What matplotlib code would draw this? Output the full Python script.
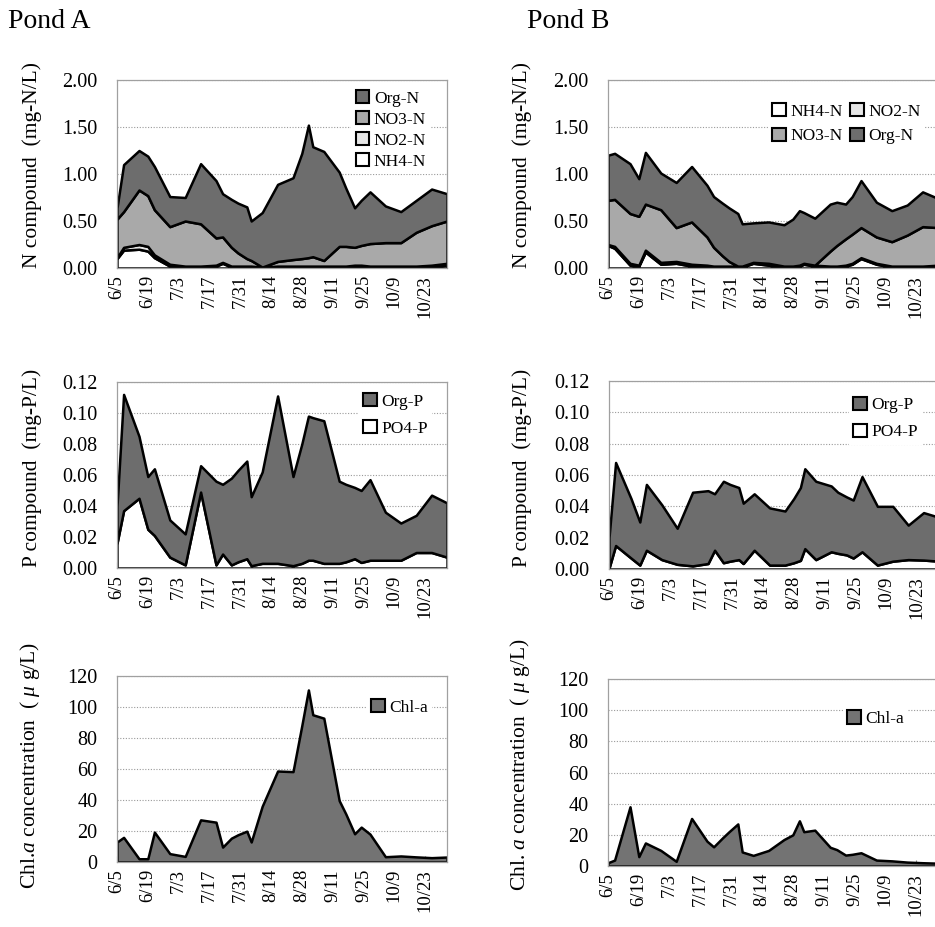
import matplotlib
matplotlib.use('Agg')
import matplotlib.pyplot as plt
from matplotlib.patches import Patch
import numpy as np
import pandas as pd

plt.rcParams['font.family'] = ['Liberation Serif', 'DejaVu Serif']
plt.rcParams['mathtext.fontset'] = 'custom'
plt.rcParams['mathtext.rm'] = 'Liberation Serif'
plt.rcParams['mathtext.it'] = 'Liberation Serif:italic'

YEAR = 2009
sample_dates = ['6/5', '6/8', '6/15', '6/19', '6/22', '6/29', '7/6', '7/13', '7/20', '7/23',
                '7/27', '7/30', '8/3', '8/5', '8/10', '8/17', '8/24', '8/28', '8/31', '9/2',
                '9/7', '9/14', '9/17', '9/21', '9/24', '9/28', '10/5', '10/12', '10/19', '10/26', '11/2']
tick_labels = ['6/5', '6/19', '7/3', '7/17', '7/31', '8/14', '8/28', '9/11', '9/25', '10/9', '10/23']

# ---- Pond A ----
a_nh4 = [.10, .19, .20, .18, .11, .02, .01, .01, .02, .05, .01, .01, .01, .01, .00, .01, .01, .01, .01, .01,
         .01, .01, .01, .02, .02, .01, .01, .01, .01, .02, .03]
a_no2 = [.01, .03, .05, .05, .03, .02, .01, .01, .01, .01, .01, .01, .01, .01, .01, .01, .01, .01, .01, .01,
         .01, .01, .01, .01, .01, .01, .01, .01, .01, .01, .02]
a_no3 = [.41, .38, .58, .54, .48, .40, .48, .45, .29, .27, .20, .14, .08, .06, .00, .05, .07, .08, .09, .10,
         .06, .21, .21, .19, .21, .24, .25, .25, .36, .42, .45]
a_orgn = [.12, .50, .42, .42, .46, .32, .25, .64, .61, .46, .51, .53, .55, .42, .58, .82, .87, 1.12, 1.41, 1.17,
          1.16, .79, .62, .42, .48, .55, .39, .33, .34, .39, .29]
a_po4 = [.016, .037, .045, .025, .021, .007, .002, .049, .002, .009, .002, .004, .006, .0015, .003, .003,
         .0015, .003, .005, .005, .003, .003, .004, .006, .0036, .005, .005, .005, .010, .010, .007]
a_orgp = [.024, .075, .040, .034, .043, .024, .020, .017, .054, .045, .056, .059, .063, .0445, .059, .108,
          .0575, .077, .093, .092, .092, .053, .050, .046, .0464, .052, .031, .024, .024, .037, .035]
a_chl = [12.9, 15.9, 2.1, 2.1, 19.3, 5.4, 3.6, 27.2, 25.7, 9.6, 15.4, 17.6, 19.9, 12.9, 36, 58.7, 58.3, 88,
         111, 95, 92.8, 39.6, 31, 18.2, 22.5, 18, 3.4, 3.9, 3.3, 2.8, 3.2]

# ---- Pond B ----
b_nh4 = [.24, .21, .03, .02, .17, .04, .05, .02, .01, .01, .01, .01, .01, .01, .05, .03, .01, .01, .02, .04,
         .02, .01, .01, .02, .04, .10, .04, .01, .01, .01, .02]
b_no2 = [.01, .02, .02, .01, .02, .02, .02, .02, .02, .01, .01, .01, .01, .01, .01, .01, .01, .01, .01, .01,
         .01, .01, .01, .01, .01, .01, .01, .01, .01, .01, .01]
b_no3 = [.47, .50, .53, .52, .49, .56, .36, .45, .30, .20, .11, .05, .00, .00, .00, .01, .00, .00, .00, .00,
         .00, .16, .22, .28, .31, .32, .28, .26, .33, .42, .40]
b_orgn = [.48, .49, .53, .40, .55, .39, .48, .59, .55, .54, .56, .57, .56, .45, .42, .44, .44, .50, .58, .54,
          .50, .50, .46, .37, .40, .50, .37, .33, .32, .37, .31]
b_po4 = [.0005, .015, .007, .0025, .012, .006, .003, .002, .0035, .012, .004, .005, .006, .0035, .012, .0025,
         .0025, .004, .0055, .013, .006, .011, .010, .009, .007, .011, .0025, .005, .006, .0057, .005]
b_orgp = [.0195, .053, .038, .0275, .042, .035, .023, .047, .0465, .036, .052, .049, .046, .0385, .036, .0365,
          .0345, .041, .0465, .051, .050, .042, .039, .037, .037, .048, .0375, .035, .022, .0303, .028]
b_chl = [2.1, 3.8, 38, 6, 14.8, 10, 3, 30.5, 15.9, 12.3, 18, 22, 27, 9, 6.8, 10, 17, 20, 29, 22,
         23, 12, 10.5, 7, 7.5, 8.5, 3.8, 3.3, 2.5, 2.1, 1.8]


def to_dates(lst):
    return pd.to_datetime([f'{YEAR}/{s}' for s in lst], format='%Y/%m/%d')


x = to_dates(sample_dates)
xt = to_dates(tick_labels)

W, H = 935, 927
fig = plt.figure(figsize=(W / 100, H / 100), dpi=100)


def axes_px(l, r, t, b):
    return fig.add_axes([l / W, 1 - b / H, (r - l) / W, (b - t) / H])


C_ORG = '#6d6d6d'
C_NO3 = '#a9a9a9'
C_NO2 = '#e6e6e6'
C_WHITE = '#ffffff'
C_CHL = '#737373'
FS_TICK = 14.5
FS_XT = 13.5
FS_LEG = 12.5


def style(ax, ymax, ystep, fmt):
    ax.set_xlim(x[0], x[-1])
    ax.set_ylim(0, ymax)
    yt = np.arange(0, ymax + ystep / 2, ystep)
    ax.set_yticks(yt)
    ax.set_yticklabels([fmt.format(v) for v in yt], fontsize=FS_TICK)
    ax.set_xticks(xt)
    ax.set_xticklabels(tick_labels, rotation=90, fontsize=FS_XT)
    ax.grid(axis='y', linestyle=(0, (1, 1.5)), color='#9a9a9a', lw=0.8)
    ax.set_axisbelow(True)
    for s in ax.spines.values():
        s.set_color('#a0a0a0')
        s.set_linewidth(0.9)
    ax.tick_params(axis='y', length=0, pad=14)
    ax.tick_params(axis='x', direction='in', length=4, color='#888888', pad=5)


def stack(ax, series, colors):
    ax.stackplot(x, *series, colors=colors, edgecolor='black', linewidth=1.8, zorder=2)


def legend(ax, items, anchor, ncol=1, colsp=0.6, lsp=0.3):
    handles = [Patch(facecolor=c, edgecolor='black', linewidth=1.5, label=l) for l, c in items]
    lg = ax.legend(handles=handles, loc='upper right', bbox_to_anchor=anchor, ncol=ncol,
                   fontsize=FS_LEG, frameon=True, fancybox=False, framealpha=1,
                   edgecolor='none', facecolor='white', handlelength=0.8, handleheight=0.8,
                   handletextpad=0.25, labelspacing=lsp, borderpad=0.25, columnspacing=colsp,
                   borderaxespad=0)
    lg.set_zorder(5)


# Titles
fig.text(8 / W, 1 - 22 / H, 'Pond A', fontsize=20, va='center', ha='left')
fig.text(527 / W, 1 - 22 / H, 'Pond B', fontsize=20, va='center', ha='left')

# N panels
axA1 = axes_px(117, 447, 80, 268)
stack(axA1, [a_nh4, a_no2, a_no3, a_orgn], [C_WHITE, C_NO2, C_NO3, C_ORG])
style(axA1, 2.0, 0.5, '{:.2f}')
legend(axA1, [('Org-N', C_ORG), ('NO3-N', C_NO3), ('NO2-N', C_NO2), ('NH4-N', C_WHITE)], (0.95, 0.97),
       lsp=0.25)

axB1 = axes_px(608, 938, 80, 268)
stack(axB1, [b_nh4, b_no2, b_no3, b_orgn], [C_WHITE, C_NO2, C_NO3, C_ORG])
style(axB1, 2.0, 0.5, '{:.2f}')
legend(axB1, [('NH4-N', C_WHITE), ('NO3-N', C_NO3), ('NO2-N', C_NO2), ('Org-N', C_ORG)], (0.96, 0.90),
       ncol=2, colsp=0.4, lsp=0.45)

# P panels
axA2 = axes_px(117, 447, 382, 568)
stack(axA2, [a_po4, a_orgp], [C_WHITE, C_ORG])
style(axA2, 0.12, 0.02, '{:.2f}')
legend(axA2, [('Org-P', C_ORG), ('PO4-P', C_WHITE)], (0.955, 0.965), lsp=0.6)

axB2 = axes_px(609, 939, 381, 569)
stack(axB2, [b_po4, b_orgp], [C_WHITE, C_ORG])
style(axB2, 0.12, 0.02, '{:.2f}')
legend(axB2, [('Org-P', C_ORG), ('PO4-P', C_WHITE)], (0.95, 0.94), lsp=0.6)

# Chl panels
axA3 = axes_px(117, 447, 676, 862)
stack(axA3, [a_chl], [C_CHL])
style(axA3, 120, 20, '{:.0f}')
legend(axA3, [('Chl-a', C_CHL)], (0.955, 0.90))

axB3 = axes_px(608, 938, 679, 866)
stack(axB3, [b_chl], [C_CHL])
style(axB3, 120, 20, '{:.0f}')
legend(axB3, [('Chl-a', C_CHL)], (0.91, 0.855))

# Y axis titles
FS_YL = 15.5
fig.text(32 / W, 1 - 165 / H, 'N compound  (mg-N/L)', rotation=90, fontsize=FS_YL, ha='center', va='center')
fig.text(522 / W, 1 - 165 / H, 'N compound  (mg-N/L)', rotation=90, fontsize=FS_YL, ha='center', va='center')
fig.text(32 / W, 1 - 468 / H, 'P compound  (mg-P/L)', rotation=90, fontsize=FS_YL, ha='center', va='center')
fig.text(522 / W, 1 - 468 / H, 'P compound  (mg-P/L)', rotation=90, fontsize=FS_YL, ha='center', va='center')
fig.text(30 / W, 1 - 765 / H, r'Chl.$a$ concentration  ( $\mu$ g/L)', rotation=90, fontsize=FS_YL,
         ha='center', va='center')
fig.text(520 / W, 1 - 765 / H, r'Chl. $a$ concentration  ( $\mu$ g/L)', rotation=90, fontsize=FS_YL,
         ha='center', va='center')

fig.savefig('out.png', dpi=100)
